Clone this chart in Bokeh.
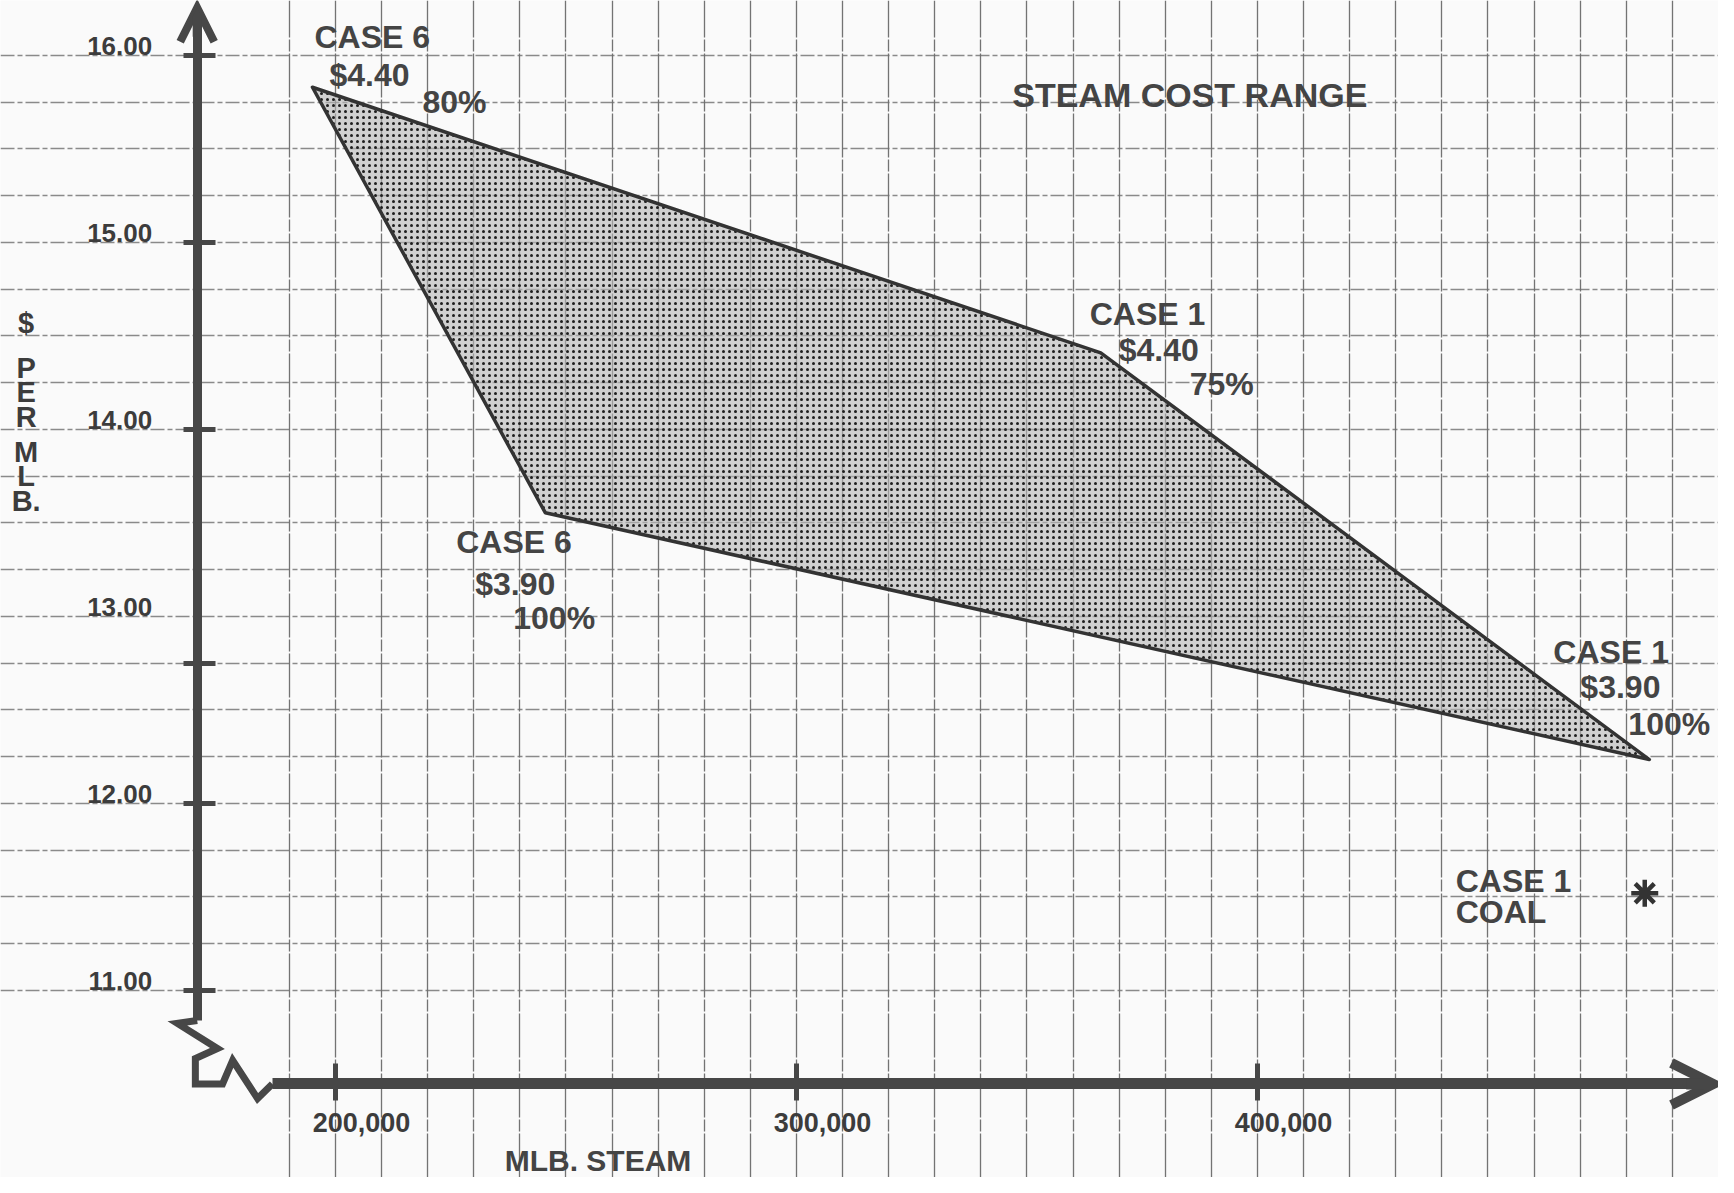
from bokeh.plotting import figure
from bokeh.models import (Range1d, LinearAxis, FixedTicker, SingleIntervalTicker, Grid,
                          Arrow, OpenHead, ColumnDataSource)
from bokeh.core.properties import value
from bokeh.embed import file_html
from bokeh.resources import INLINE

# ---------------- data ----------------
case_names = ["CASE 6", "CASE 1", "CASE 1", "CASE 6"]
fuel_prices = ["$4.40", "$4.40", "$3.90", "$3.90"]
load_factors = ["80%", "75%", "100%", "100%"]
steam_mlb = [195000, 366000, 485000, 245500]
cost_per_mlb = [15.83, 14.41, 12.235, 13.555]

coal_case = ["CASE 1", "COAL"]
coal_steam = [484000]
coal_cost = [11.52]

x_ticks = [200000, 300000, 400000]
x_tick_labels = ["200,000", "300,000", "400,000"]
y_tick_marks = [11, 12, 12.75, 14, 15, 16]
y_label_values = [11, 12, 13, 14, 15, 16]
y_tick_labels = ["11.00", "12.00", "13.00", "14.00", "15.00", "16.00"]

# axis break (zig-zag) drawn where the two axes meet
break_x = [170000, 165700, 174400, 169600, 169600, 175500, 177700, 183100, 186300]
break_y = [10.84, 10.824, 10.69, 10.636, 10.50, 10.50, 10.626, 10.422, 10.50]

# ---------------- style ----------------
FONT = "Liberation Sans"
INK = "#3c3c3c"
AXIS = "#474747"
PAPER = "#fafafa"
X_AXIS_AT = 10.5
Y_AXIS_AT = 170000

p = figure(width=1718, height=1177, output_backend="svg", toolbar_location=None,
           x_axis_type=None, y_axis_type=None, min_border=0,
           x_range=Range1d(127332, 500000), y_range=Range1d(10.0, 16.294))
p.outline_line_color = None
p.background_fill_color = PAPER
p.border_fill_color = PAPER

# graph paper
xgrid = Grid(dimension=0, ticker=SingleIntervalTicker(interval=10000, num_minor_ticks=0),
             grid_line_color="#5a5a5a", grid_line_width=1.3, grid_line_alpha=0.85,
             grid_line_dash="44 2 12 2")
ygrid = Grid(dimension=1, ticker=SingleIntervalTicker(interval=0.25, num_minor_ticks=0),
             grid_line_color="#6e6e6e", grid_line_width=1.3, grid_line_alpha=0.8,
             grid_line_dash="14 3 5 3")
p.add_layout(xgrid)
p.add_layout(ygrid)

# shaded cost range
p.patch(steam_mlb, cost_per_mlb, fill_color="#b4b4b4", fill_alpha=0.6,
        hatch_pattern="dot", hatch_color="#1e1e1e", hatch_scale=6, hatch_weight=2.5,
        line_color="#333333", line_width=3.5, line_join="round")

# coal point
p.scatter(coal_steam, coal_cost, marker="asterisk", size=27, line_width=4.5, line_color="#333333")

# ---------------- axes ----------------
yaxis = LinearAxis(fixed_location=Y_AXIS_AT, bounds=(10.84, 16.2),
                   ticker=FixedTicker(ticks=y_tick_marks),
                   axis_line_width=9, axis_line_color=AXIS,
                   major_tick_line_width=5, major_tick_line_color=AXIS,
                   major_tick_out=14, major_tick_in=18,
                   minor_tick_line_color=None, major_label_text_color=None)
p.add_layout(yaxis, "left")

xaxis = LinearAxis(fixed_location=X_AXIS_AT, bounds=(186300, 497000),
                   ticker=FixedTicker(ticks=x_ticks),
                   axis_line_width=11, axis_line_color=AXIS,
                   major_tick_line_width=5, major_tick_line_color=AXIS,
                   major_tick_out=17, major_tick_in=20,
                   minor_tick_line_color=None, major_label_text_color=None)
p.add_layout(xaxis, "below")

# tick labels: the cost labels sit a little above their ticks,
# the steam labels a little to the right of theirs
p.text(x=[Y_AXIS_AT] * len(y_label_values), y=y_label_values, text=y_tick_labels,
       x_offset=-45, y_offset=-9,
       text_font=value(FONT), text_font_size="26px", text_font_style="bold",
       text_color=INK, text_align="right", text_baseline="middle")
p.text(x=x_ticks, y=[X_AXIS_AT] * len(x_ticks), text=x_tick_labels,
       x_offset=26, y_offset=39,
       text_font=value(FONT), text_font_size="27px", text_font_style="bold",
       text_color=INK, text_align="center", text_baseline="middle")

p.add_layout(Arrow(end=OpenHead(size=34, line_width=8, line_color=AXIS, line_join="miter"),
                   x_start=Y_AXIS_AT, y_start=16.1, x_end=Y_AXIS_AT, y_end=16.255,
                   line_width=9, line_color=AXIS))
p.add_layout(Arrow(end=OpenHead(size=42, line_width=10, line_color=AXIS, line_join="miter"),
                   x_start=493000, y_start=X_AXIS_AT, x_end=498900, y_end=X_AXIS_AT,
                   line_width=11, line_color=AXIS))

p.line(break_x, break_y, line_width=7, line_color=AXIS, line_join="miter")

# ---------------- labels ----------------
# pixel offsets of each label line from its vertex
offsets = [
    [(2, -50), (17, -12), (110, 15)],
    [(-11, -39), (18, -3), (89, 31)],
    [(-96, -108), (-69, -73), (-21, -36)],
    [(-89, 29), (-70, 71), (-32, 105)],
]
lx, ly, lt, dx, dy = [], [], [], [], []
for i in range(len(steam_mlb)):
    for txt, (ox, oy) in zip([case_names[i], fuel_prices[i], load_factors[i]], offsets[i]):
        lx.append(steam_mlb[i]); ly.append(cost_per_mlb[i]); lt.append(txt)
        dx.append(ox); dy.append(oy)
for txt, (ox, oy) in zip(coal_case, [(-189, -12), (-189, 19)]):
    lx.append(coal_steam[0]); ly.append(coal_cost[0]); lt.append(txt)
    dx.append(ox); dy.append(oy)

src = ColumnDataSource(dict(x=lx, y=ly, text=lt, dx=dx, dy=dy))
p.text(x="x", y="y", text="text", x_offset="dx", y_offset="dy", source=src,
       text_font=value(FONT), text_font_size="32px", text_font_style="bold",
       text_color="#444444", text_align="left", text_baseline="alphabetic")

p.text(x=[346800], y=[15.786], text=["STEAM COST RANGE"],
       text_font=value(FONT), text_font_size="34px", text_font_style="bold",
       text_color="#444444", text_align="left", text_baseline="alphabetic")

p.text(x=[236700], y=[10.09], text=["MLB. STEAM"],
       text_font=value(FONT), text_font_size="30px", text_font_style="bold",
       text_color="#444444", text_align="left", text_baseline="middle")

p.text(x=[132900, 132900, 132900], y=[14.572, 14.415, 13.965],
       text=["$", "P\nE\nR", "M\nL\nB."],
       text_baseline=["middle", "top", "top"],
       text_font=value(FONT), text_font_size="29px", text_font_style="bold",
       text_color=INK, text_align="center", text_line_height=0.76)

open("out.html", "w").write(file_html(p, INLINE))
